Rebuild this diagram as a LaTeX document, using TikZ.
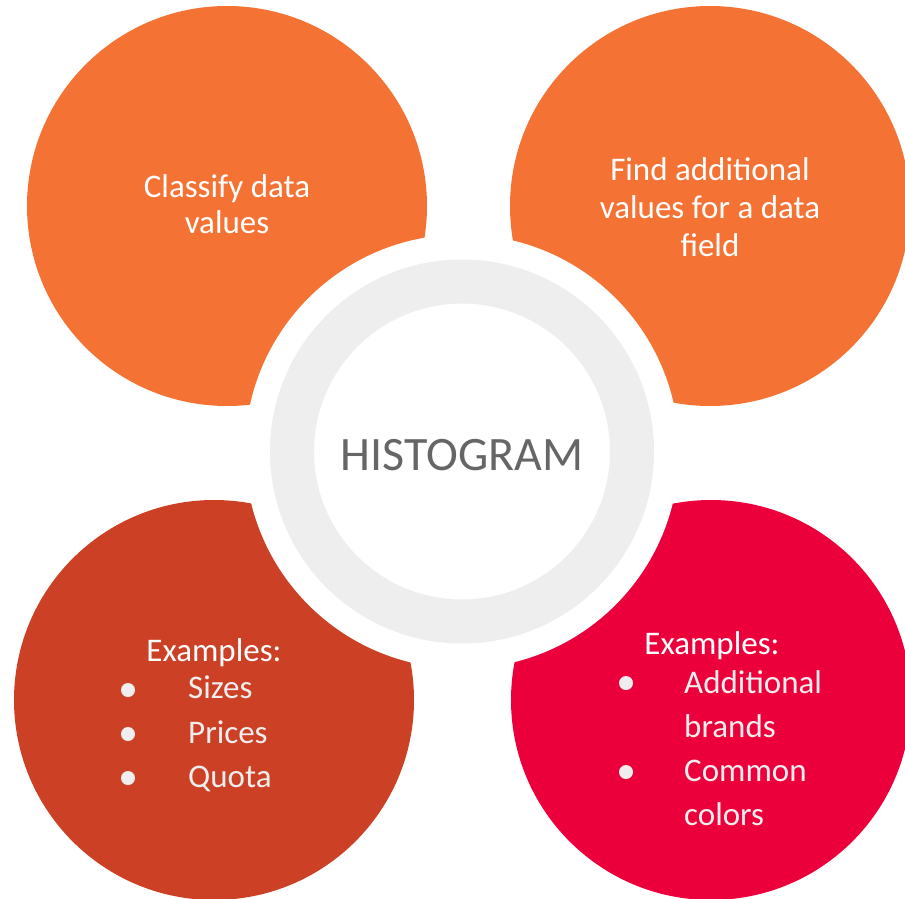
\documentclass[tikz,border=0pt]{standalone}
\usepackage{fontspec}
\setmainfont{Carlito}
\definecolor{orng}{HTML}{F47334}
\definecolor{rust}{HTML}{CC4125}
\definecolor{crim}{HTML}{EB003B}
\definecolor{ringgrey}{HTML}{EEEEEE}
\definecolor{titlegrey}{HTML}{666666}
\definecolor{bulletgrey}{HTML}{EEEEEE}
\tikzset{
  bigdisc/.style={circle, minimum size=400pt, inner sep=0pt, draw=none},
  lbl/.style={text=white, font=\fontsize{33}{38}\selectfont, anchor=base, inner sep=0pt},
  itemlbl/.style={text=bulletgrey, font=\fontsize{33}{38}\selectfont, anchor=base west, inner sep=0pt},
  dot/.style={circle, fill=bulletgrey, minimum size=14pt, inner sep=0pt},
}
\begin{document}
\begin{tikzpicture}[x=1pt,y=-1pt]
\useasboundingbox (0,0) rectangle (905,899);
\node[bigdisc, fill=orng] (tl) at (227,206) {};
\node[bigdisc, fill=orng] (tr) at (710,206) {};
\node[bigdisc, fill=rust] (bl) at (214,700) {};
\node[bigdisc, fill=crim] (br) at (711,700) {};
\node[circle, fill=white, minimum size=434pt, inner sep=0pt] (gap) at (462,451.5) {};
\node[circle, draw=ringgrey, line width=44pt, minimum size=340pt, inner sep=0pt] (ring) at (462,451.5) {};
\node[text=titlegrey, font=\fontsize{48}{56}\selectfont, anchor=base, inner sep=0pt] (title) at (462,470) {HISTOGRAM};
% top left
\node[lbl] (tl1) at (227,197) {Classify data};
\node[lbl] (tl2) at (227,233) {values};
% top right
\node[lbl] (tr1) at (710,180) {Find additional};
\node[lbl] (tr2) at (710,218) {values for a data};
\node[lbl] (tr3) at (710,256) {field};
% bottom left
\node[lbl] (blh) at (214,661) {Examples:};
\node[dot] (bld1) at (128,690) {};
\node[dot] (bld2) at (128,734) {};
\node[dot] (bld3) at (128,778) {};
\node[itemlbl] (bli1) at (188,698) {Sizes};
\node[itemlbl] (bli2) at (188,743) {Prices};
\node[itemlbl] (bli3) at (188,787) {Quota};
% bottom right
\node[lbl] (brh) at (712,654) {Examples:};
\node[dot] (brd1) at (626,683) {};
\node[dot] (brd2) at (626,772) {};
\node[itemlbl] (bri1) at (684,693) {Additional};
\node[itemlbl] (bri2) at (684,737) {brands};
\node[itemlbl] (bri3) at (684,781) {Common};
\node[itemlbl] (bri4) at (684,825) {colors};
\end{tikzpicture}
\end{document}
